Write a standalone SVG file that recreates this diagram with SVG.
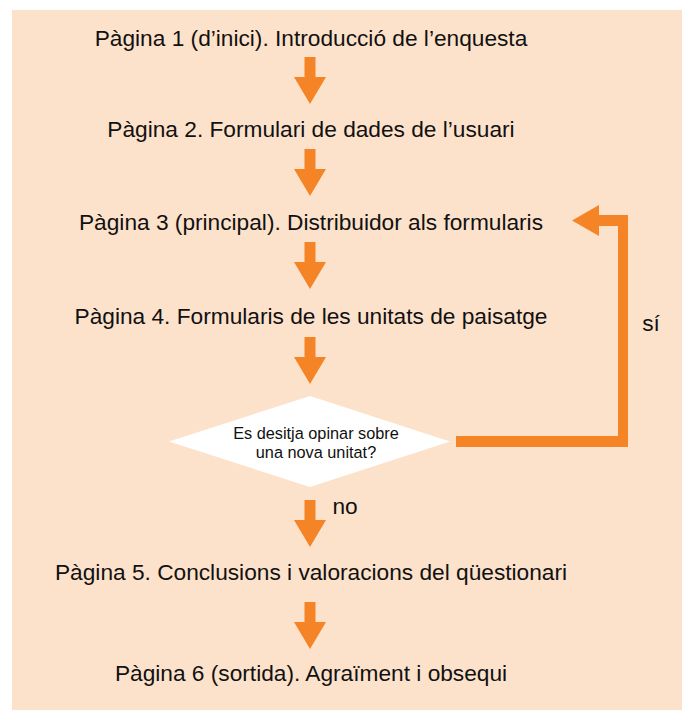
<svg xmlns="http://www.w3.org/2000/svg" width="682" height="710" viewBox="0 0 682 710">
<defs>
<style>
.t{font-family:"Liberation Sans",Arial,sans-serif;font-size:22.7px;fill:#111;text-anchor:middle}
.s{font-family:"Liberation Sans",Arial,sans-serif;font-size:16.3px;fill:#111;text-anchor:middle}
.a{fill:#F58426}
</style>
<path id="arr" class="a" d="M-5.5,0 H5.5 V20 H16 L0,47 L-16,20 H-5.5 Z"/>
</defs>
<rect x="12" y="10" width="670" height="700" fill="#FDE2CB"/>
<g id="connectors">
<use href="#arr" x="310" y="57"/>
<use href="#arr" x="310" y="149"/>
<use href="#arr" x="310" y="242"/>
<use href="#arr" x="310" y="337"/>
<use href="#arr" x="310" y="500"/>
<use href="#arr" x="310" y="602"/>
<path class="a" d="M456,436 H618 V226 H599 V236 L572,220.5 L599,205 V215 H628 V447 H456 Z"/>
<text class="t" x="651" y="331">sí</text>
<text class="t" x="345" y="514">no</text>
</g>
<g id="p1"><text class="t" x="311" y="46">Pàgina 1 (d’inici). Introducció de l’enquesta</text></g>
<g id="p2"><text class="t" x="311" y="137">Pàgina 2. Formulari de dades de l’usuari</text></g>
<g id="p3"><text class="t" x="311" y="230">Pàgina 3 (principal). Distribuidor als formularis</text></g>
<g id="p4"><text class="t" x="311" y="324">Pàgina 4. Formularis de les unitats de paisatge</text></g>
<g id="decision">
<polygon points="169,441.5 310,396 450,441.5 310,487" fill="#FFFFFF"/>
<text class="s" x="316" y="439">Es desitja opinar sobre</text>
<text class="s" x="316" y="458">una nova unitat?</text>
</g>
<g id="p5"><text class="t" x="311" y="580">Pàgina 5. Conclusions i valoracions del qüestionari</text></g>
<g id="p6"><text class="t" x="311" y="681">Pàgina 6 (sortida). Agraïment i obsequi</text></g>
</svg>
